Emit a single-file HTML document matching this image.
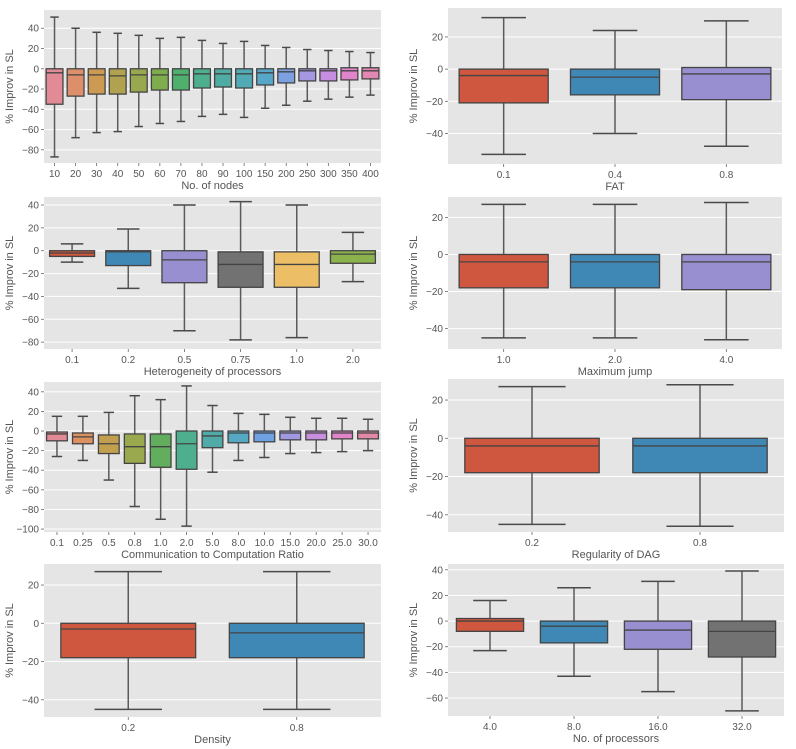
<!DOCTYPE html>
<html><head><meta charset="utf-8"><style>
body{margin:0;background:#fff;}
svg{display:block;font-family:"Liberation Sans","DejaVu Sans",sans-serif;}
</style></head><body>
<svg id="fig" width="796" height="749" viewBox="0 0 796 749"></svg>
<script>
// ---- data arrays ----
const p1Cats=["10","20","30","40","50","60","70","80","90","100","150","200","250","300","350","400"];
const p1Hi=[51,40,36,35,33,30,31,28,25,27,23,21,19,18,17,16];
const p1Q3=[0,0,0,0,0,0,0,0,0,0,0,0,0,0,1,1];
const p1Med=[-4,-6,-6,-7,-6,-6,-6,-5,-5,-5,-4,-3,-2,-2,-2,-2];
const p1Q1=[-35,-27,-25,-25,-23,-21,-21,-19,-18,-19,-16,-14,-12,-12,-11,-10];
const p1Lo=[-87,-68,-63,-62,-57,-54,-52,-47,-45,-48,-39,-36,-32,-30,-28,-26];
const p1Ticks=[40,20,0,-20,-40,-60,-80];

const p2Cats=["0.1","0.4","0.8"];
const p2Hi=[32,24,30];const p2Q3=[0,0,1];const p2Med=[-4,-5,-3];const p2Q1=[-21,-16,-19];const p2Lo=[-53,-40,-48];
const p2Ticks=[20,0,-20,-40];

const p3Cats=["0.1","0.2","0.5","0.75","1.0","2.0"];
const p3Hi=[6,19,40,43,40,16];const p3Q3=[0,0,0,-1,-1,0];const p3Med=[-2,-1,-8,-12,-12,-3];const p3Q1=[-5,-13,-28,-32,-32,-11];const p3Lo=[-10,-33,-70,-78,-76,-27];
const p3Ticks=[40,20,0,-20,-40,-60,-80];

const p4Cats=["1.0","2.0","4.0"];
const p4Hi=[27,27,28];const p4Q3=[0,0,0];const p4Med=[-4,-4,-4];const p4Q1=[-18,-18,-19];const p4Lo=[-45,-45,-46];
const p4Ticks=[20,0,-20,-40];

const p5Cats=["0.1","0.25","0.5","0.8","1.0","2.0","5.0","8.0","10.0","15.0","20.0","25.0","30.0"];
const p5Hi=[15,15,19,36,32,46,26,18,17,14,13,13,12];
const p5Q3=[-1,-2,-4,-3,-3,0,0,0,0,0,0,0,0];
const p5Med=[-3,-6,-13,-16,-16,-13,-5,-2,-2,-2,-2,-2,-2];
const p5Q1=[-10,-13,-23,-33,-37,-39,-17,-12,-11,-9,-9,-8,-8];
const p5Lo=[-26,-30,-50,-77,-90,-97,-42,-30,-27,-23,-22,-21,-20];
const p5Ticks=[40,20,0,-20,-40,-60,-80,-100];

const p6Cats=["0.2","0.8"];
const p6Hi=[27,28];const p6Q3=[0,0];const p6Med=[-4,-4];const p6Q1=[-18,-18];const p6Lo=[-45,-46];
const p6Ticks=[20,0,-20,-40];

const p7Cats=["0.2","0.8"];
const p7Hi=[27,27];const p7Q3=[0,0];const p7Med=[-3,-5];const p7Q1=[-18,-18];const p7Lo=[-45,-45];
const p7Ticks=[20,0,-20,-40];

const p8Cats=["4.0","8.0","16.0","32.0"];
const p8Hi=[16,26,31,39];const p8Q3=[2,0,0,0];const p8Med=[0,-4,-7,-8];const p8Q1=[-8,-17,-22,-28];const p8Lo=[-23,-43,-55,-70];
const p8Ticks=[40,20,0,-20,-40,-60];

const ggColors=["#cf573f","#3f87b4","#978fd0","#727272","#ecbf66","#8bb24c"];
const husl16=["#e28a96","#dc8f6a","#cc9a52","#b0a24e","#98a84e","#7fad4e","#4fb06e","#4eaf8e","#4faca2","#52aab4","#56a7c8","#7ca0e0","#a698e0","#c68ee0","#e084cc","#e288b2"];
const husl13=["#e28a96","#dc9161","#c19f4e","#9aa84e","#62ae5e","#4eaf8e","#50aba8","#54a8c2","#6fa2e2","#a098e0","#c88fe0","#e284c8","#e289aa"];

const NS="http://www.w3.org/2000/svg";
const svg=document.getElementById("fig");
function mk(tag,attrs,parent){const e=document.createElementNS(NS,tag);for(const k in attrs)e.setAttribute(k,attrs[k]);(parent||svg).appendChild(e);return e;}

const panels=[
 {id:"nodes",x0:44,x1:381,y0:10,y1:163,ymax:58,ymin:-93,cats:p1Cats,hi:p1Hi,q3:p1Q3,med:p1Med,q1:p1Q1,lo:p1Lo,ticks:p1Ticks,colors:husl16,xl:"No. of nodes",yl:10},
 {id:"fat",x0:448,x1:782,y0:8,y1:164,ymax:38,ymin:-59,cats:p2Cats,hi:p2Hi,q3:p2Q3,med:p2Med,q1:p2Q1,lo:p2Lo,ticks:p2Ticks,colors:ggColors,xl:"FAT",yl:414},
 {id:"heterogeneity",x0:44,x1:381,y0:197,y1:349,ymax:47,ymin:-86,cats:p3Cats,hi:p3Hi,q3:p3Q3,med:p3Med,q1:p3Q1,lo:p3Lo,ticks:p3Ticks,colors:ggColors,xl:"Heterogeneity of processors",yl:10},
 {id:"max-jump",x0:448,x1:782,y0:197,y1:349,ymax:31,ymin:-51,cats:p4Cats,hi:p4Hi,q3:p4Q3,med:p4Med,q1:p4Q1,lo:p4Lo,ticks:p4Ticks,colors:ggColors,xl:"Maximum jump",yl:414},
 {id:"ccr",x0:44,x1:381,y0:382,y1:532,ymax:50,ymin:-103,cats:p5Cats,hi:p5Hi,q3:p5Q3,med:p5Med,q1:p5Q1,lo:p5Lo,ticks:p5Ticks,colors:husl13,xl:"Communication to Computation Ratio",yl:10},
 {id:"regularity",x0:448,x1:784,y0:379,y1:532,ymax:31,ymin:-49,cats:p6Cats,hi:p6Hi,q3:p6Q3,med:p6Med,q1:p6Q1,lo:p6Lo,ticks:p6Ticks,colors:ggColors,xl:"Regularity of DAG",yl:414},
 {id:"density",x0:44,x1:381,y0:564,y1:717,ymax:31,ymin:-49,cats:p7Cats,hi:p7Hi,q3:p7Q3,med:p7Med,q1:p7Q1,lo:p7Lo,ticks:p7Ticks,colors:ggColors,xl:"Density",yl:10},
 {id:"processors",x0:448,x1:784,y0:564,y1:716,ymax:44.5,ymin:-74,cats:p8Cats,hi:p8Hi,q3:p8Q3,med:p8Med,q1:p8Q1,lo:p8Lo,ticks:p8Ticks,colors:ggColors,xl:"No. of processors",yl:414}
];

panels.forEach(p=>{
 const g=mk("g",{});
 
 
 const ys=v=>p.y0+(p.ymax-v)/(p.ymax-p.ymin)*(p.y1-p.y0);
 const n=p.cats.length, step=(p.x1-p.x0)/n;
 const xs=i=>p.x0+step*(i+0.5);
 const bg=mk("rect",{x:p.x0,y:p.y0,width:p.x1-p.x0,height:p.y1-p.y0,fill:"#e5e5e5"},g);
 
 
 p.ticks.forEach(t=>{
  const y=ys(t);
  mk("line",{x1:p.x0,x2:p.x1,y1:y,y2:y,stroke:"#fff","stroke-width":1},g);
  mk("line",{x1:p.x0-3,x2:p.x0,y1:y,y2:y,stroke:"#666","stroke-width":0.8},g);
  const tl=mk("text",{x:p.x0-5,y:y+3.5,"text-anchor":"end","font-size":"10","fill":"#555"},g);
  tl.textContent=(t<0?"\u2212"+(-t):t);
  
  
 });
 p.cats.forEach((c,i)=>{
  const x=xs(i), bw=step*0.8, cw=bw/2;
  mk("line",{x1:x,x2:x,y1:p.y1,y2:p.y1+3,stroke:"#666","stroke-width":0.8},g);
  const xl=mk("text",{x:x,y:p.y1+14,"text-anchor":"middle","font-size":"10","fill":"#555"},g);
  xl.textContent=c;
  
  
  const bx=mk("g",{},g);
  
  
  mk("line",{x1:x,x2:x,y1:ys(p.hi[i]),y2:ys(p.q3[i]),stroke:"#5a5a5a","stroke-width":1.5},bx);
  mk("line",{x1:x,x2:x,y1:ys(p.q1[i]),y2:ys(p.lo[i]),stroke:"#5a5a5a","stroke-width":1.5},bx);
  mk("line",{x1:x-cw/2,x2:x+cw/2,y1:ys(p.hi[i]),y2:ys(p.hi[i]),stroke:"#4a4a4a","stroke-width":1.5},bx);
  mk("line",{x1:x-cw/2,x2:x+cw/2,y1:ys(p.lo[i]),y2:ys(p.lo[i]),stroke:"#4a4a4a","stroke-width":1.5},bx);
  mk("rect",{x:x-bw/2,y:ys(p.q3[i]),width:bw,height:ys(p.q1[i])-ys(p.q3[i]),fill:p.colors[i%p.colors.length],stroke:"#444","stroke-width":1.3},bx);
  mk("line",{x1:x-bw/2,x2:x+bw/2,y1:ys(p.med[i]),y2:ys(p.med[i]),stroke:"#444","stroke-width":1.3},bx);
 });
 const xt=mk("text",{x:(p.x0+p.x1)/2,y:p.y1+26,"text-anchor":"middle","font-size":"11","fill":"#555"},g);
 xt.textContent=p.xl;
 
 
 const cy=(p.y0+p.y1)/2;
 const yt=mk("text",{x:p.yl,y:cy,"text-anchor":"middle","font-size":"11","fill":"#555",transform:"rotate(-90 "+(p.yl)+" "+cy+")","dominant-baseline":"middle"},g);
 yt.textContent="% Improv in SL";
 
 
});
</script>
</body></html>
